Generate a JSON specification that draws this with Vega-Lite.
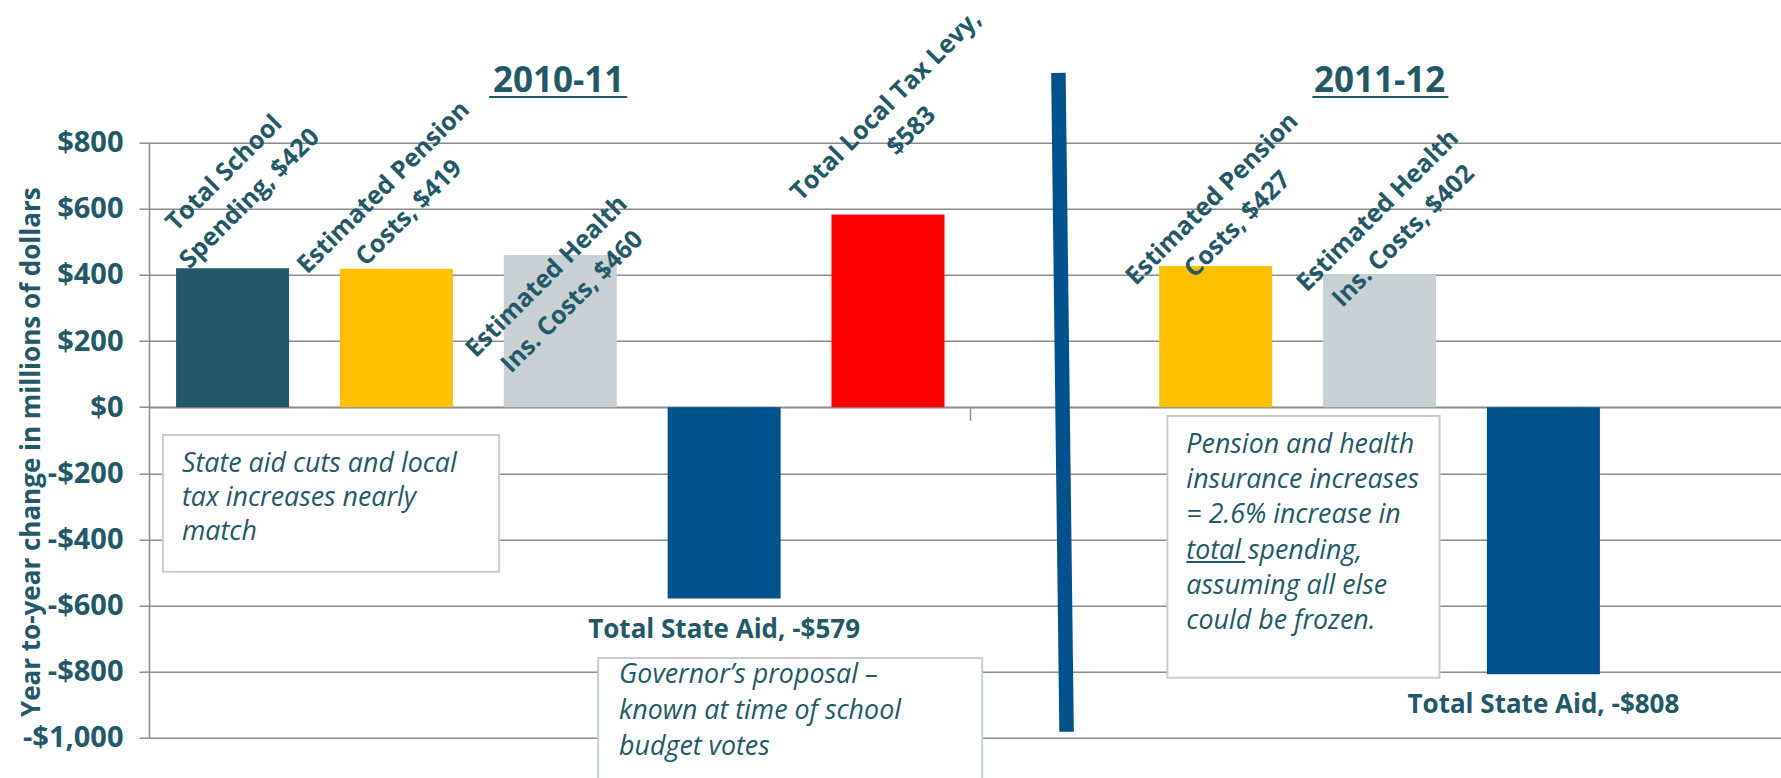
{
  "$schema": "https://vega.github.io/schema/vega-lite/v6.json",
  "width": 1632,
  "height": 595,
  "autosize": {"type": "none"},
  "padding": {"left": 149, "top": 142.7, "right": 0, "bottom": 40.3},
  "config": {"view": {"stroke": null}, "font": "Open Sans"},
  "data": {"values": [
    {"slot": 1, "year": "2010-11", "kind": "Total School Spending", "value": 420, "label": "Total School\nSpending, $420"},
    {"slot": 2, "year": "2010-11", "kind": "Estimated Pension Costs", "value": 419, "label": "Estimated Pension\nCosts, $419"},
    {"slot": 3, "year": "2010-11", "kind": "Estimated Health Ins. Costs", "value": 460, "label": "Estimated Health\nIns. Costs, $460"},
    {"slot": 4, "year": "2010-11", "kind": "Total State Aid", "value": -579, "label": "Total State Aid, -$579"},
    {"slot": 5, "year": "2010-11", "kind": "Total Local Tax Levy", "value": 583, "label": "Total Local Tax Levy,\n$583"},
    {"slot": 7, "year": "2011-12", "kind": "Estimated Pension Costs", "value": 427, "label": "Estimated Pension\nCosts, $427"},
    {"slot": 8, "year": "2011-12", "kind": "Estimated Health Ins. Costs", "value": 402, "label": "Estimated Health\nIns. Costs, $402"},
    {"slot": 9, "year": "2011-12", "kind": "Total State Aid", "value": -808, "label": "Total State Aid, -$808"}
  ]},
  "layer": [
    {
      "mark": {"type": "bar", "size": 113},
      "encoding": {
        "x": {"field": "slot", "type": "quantitative",
          "scale": {"domain": [0.49, 10.45], "nice": false, "zero": false, "padding": 0},
          "axis": {"orient": "bottom", "offset": -330.5, "values": [5.5], "labels": false, "ticks": true, "tickSize": 13, "tickColor": "#8c8c8c", "tickWidth": 1.5, "domain": true, "domainColor": "#8c8c8c", "domainWidth": 1.5, "grid": false, "title": null}},
        "y": {"field": "value", "type": "quantitative",
          "scale": {"domain": [-1000, 800], "nice": false, "padding": 0},
          "axis": {"values": [-1000, -800, -600, -400, -200, 0, 200, 400, 600, 800],
            "labelExpr": "datum.value < 0 ? '-$' + format(-datum.value, ',') : '$' + format(datum.value, ',')",
            "labelFont": "Open Sans", "labelFontWeight": "bold", "labelFontSize": 29, "labelColor": "#215968", "labelPadding": 16,
            "tickSize": 10, "tickColor": "#8c8c8c", "tickWidth": 1.5,
            "domainColor": "#8c8c8c", "domainWidth": 1.5,
            "grid": true, "gridColor": "#8c8c8c", "gridWidth": 1.5,
            "title": "Year to-year change in millions of dollars",
            "titleFont": "Open Sans", "titleFontWeight": "bold", "titleFontSize": 26, "titleColor": "#215968",
            "titleX": -118, "titleY": 309, "titleAngle": -90, "titleAlign": "center", "titleBaseline": "middle"}},
        "color": {"field": "kind", "type": "nominal", "legend": null,
          "scale": {"domain": ["Total School Spending", "Estimated Pension Costs", "Estimated Health Ins. Costs", "Total State Aid", "Total Local Tax Levy"],
                    "range": ["#215968", "#FFC000", "#C9D1D4", "#00528F", "#FF0000"]}}
      }
    },
    {
      "data": {"values": [{}]},
      "mark": {"type": "rule", "color": "#00528F", "strokeWidth": 14.5, "strokeCap": "butt"},
      "encoding": {"x": {"datum": 6.04}, "x2": {"datum": 6.09}, "y": {"datum": 1011}, "y2": {"datum": -982}}
    },
    {
      "data": {"values": [{"t": "2010-11", "p": 2.99}, {"t": "2011-12", "p": 8.0}]},
      "mark": {"type": "text", "font": "Open Sans", "fontWeight": "bold", "fontSize": 35, "color": "#215968", "align": "center", "baseline": "alphabetic"},
      "encoding": {"x": {"field": "p", "type": "quantitative"}, "y": {"datum": 953}, "text": {"field": "t"}}
    },
    {
      "data": {"values": [{"a": 2.566, "b": 3.408}, {"a": 7.59, "b": 8.42}]},
      "mark": {"type": "rule", "color": "#215968", "strokeWidth": 2},
      "encoding": {"x": {"field": "a", "type": "quantitative"}, "x2": {"field": "b"}, "y": {"datum": 938}}
    },
    {
      "data": {"values": [{"x1": 0.575, "x2": 2.627, "y1": -84, "y2": -498}, {"x1": 3.231, "x2": 5.575, "y1": -759, "y2": -1180}, {"x1": 6.705, "x2": 8.366, "y1": -26.6, "y2": -819}]},
      "mark": {"type": "rect", "fill": "#ffffff", "stroke": "#c5cdd1", "strokeWidth": 2},
      "encoding": {"x": {"field": "x1", "type": "quantitative"}, "x2": {"field": "x2"}, "y": {"field": "y1", "type": "quantitative"}, "y2": {"field": "y2"}}
    },
    {
      "data": {"values": [{}]},
      "mark": {"type": "text", "font": "Open Sans", "fontStyle": "italic", "fontSize": 26.8, "lineHeight": 34, "color": "#215968", "align": "left", "baseline": "alphabetic"},
      "encoding": {"x": {"datum": 0.691}, "y": {"datum": -196}, "text": {"value": ["State aid cuts and local", "tax increases nearly", "match"]}}
    },
    {
      "data": {"values": [{}]},
      "mark": {"type": "text", "font": "Open Sans", "fontStyle": "italic", "fontSize": 26.8, "lineHeight": 36, "color": "#215968", "align": "left", "baseline": "alphabetic"},
      "encoding": {"x": {"datum": 3.359}, "y": {"datum": -834}, "text": {"value": ["Governor’s proposal –", "known at time of school", "budget votes"]}}
    },
    {
      "data": {"values": [{}]},
      "mark": {"type": "text", "font": "Open Sans", "fontStyle": "italic", "fontSize": 26.8, "lineHeight": 35.2, "color": "#215968", "align": "left", "baseline": "alphabetic"},
      "encoding": {"x": {"datum": 6.821}, "y": {"datum": -139}, "text": {"value": ["Pension and health", "insurance increases", "= 2.6% increase in", "total spending,", "assuming all else", "could be frozen."]}}
    },
    {
      "data": {"values": [{}]},
      "mark": {"type": "rule", "color": "#215968", "strokeWidth": 2},
      "encoding": {"x": {"datum": 6.821}, "x2": {"datum": 7.18}, "y": {"datum": -468.3}}
    },
    {
      "transform": [{"filter": "datum.value < 0"}],
      "mark": {"type": "text", "font": "Open Sans", "fontWeight": "bold", "fontSize": 26, "color": "#215968", "align": "center", "baseline": "alphabetic", "dy": 39},
      "encoding": {"x": {"field": "slot", "type": "quantitative"}, "y": {"field": "value", "type": "quantitative"}, "text": {"field": "label"}}
    },
    {
      "transform": [{"filter": "datum.slot == 1"}],
      "mark": {"type": "text", "font": "Open Sans", "fontWeight": "bold", "fontSize": 25, "lineHeight": 36, "lineBreak": "\n", "color": "#215968", "align": "center", "baseline": "middle", "angle": -45, "dx": 61.4, "dy": -73.4},
      "encoding": {"x": {"field": "slot", "type": "quantitative"}, "y": {"field": "value", "type": "quantitative"}, "text": {"field": "label"}}
    },
    {
      "transform": [{"filter": "datum.slot == 2"}],
      "mark": {"type": "text", "font": "Open Sans", "fontWeight": "bold", "fontSize": 25, "lineHeight": 36, "lineBreak": "\n", "color": "#215968", "align": "center", "baseline": "middle", "angle": -45, "dx": 48.4, "dy": -66.8},
      "encoding": {"x": {"field": "slot", "type": "quantitative"}, "y": {"field": "value", "type": "quantitative"}, "text": {"field": "label"}}
    },
    {
      "transform": [{"filter": "datum.slot == 3"}],
      "mark": {"type": "text", "font": "Open Sans", "fontWeight": "bold", "fontSize": 25, "lineHeight": 36, "lineBreak": "\n", "color": "#215968", "align": "center", "baseline": "middle", "angle": -45, "dx": -24.7, "dy": 5.3},
      "encoding": {"x": {"field": "slot", "type": "quantitative"}, "y": {"field": "value", "type": "quantitative"}, "text": {"field": "label"}}
    },
    {
      "transform": [{"filter": "datum.slot == 5"}],
      "mark": {"type": "text", "font": "Open Sans", "fontWeight": "bold", "fontSize": 25, "lineHeight": 36, "lineBreak": "\n", "color": "#215968", "align": "center", "baseline": "middle", "angle": -45, "dx": 75.5, "dy": -78.5},
      "encoding": {"x": {"field": "slot", "type": "quantitative"}, "y": {"field": "value", "type": "quantitative"}, "text": {"field": "label"}}
    },
    {
      "transform": [{"filter": "datum.slot == 7"}],
      "mark": {"type": "text", "font": "Open Sans", "fontWeight": "bold", "fontSize": 25, "lineHeight": 36, "lineBreak": "\n", "color": "#215968", "align": "center", "baseline": "middle", "angle": -45, "dx": 44.8, "dy": -50.2},
      "encoding": {"x": {"field": "slot", "type": "quantitative"}, "y": {"field": "value", "type": "quantitative"}, "text": {"field": "label"}}
    },
    {
      "transform": [{"filter": "datum.slot == 8"}],
      "mark": {"type": "text", "font": "Open Sans", "fontWeight": "bold", "fontSize": 25, "lineHeight": 36, "lineBreak": "\n", "color": "#215968", "align": "center", "baseline": "middle", "angle": -45, "dx": 43.8, "dy": -46.4},
      "encoding": {"x": {"field": "slot", "type": "quantitative"}, "y": {"field": "value", "type": "quantitative"}, "text": {"field": "label"}}
    }
  ]
}
